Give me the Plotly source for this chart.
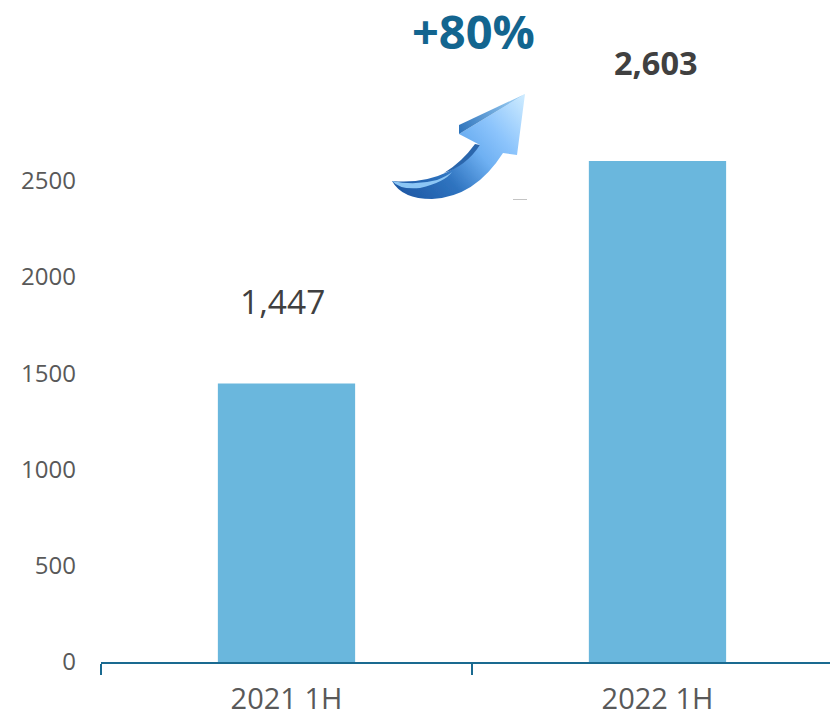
import base64
import plotly.graph_objects as go

# Half-year totals
periods = ["2021 1H", "2022 1H"]
totals = [1447, 2603]
total_labels = ["1,447", "2,603"]
label_weights = ["normal", "bold"]
label_xshifts = [-4, -1.5]
y_ticks = [0, 500, 1000, 1500, 2000, 2500]
growth_label = "+80%"

BAR_BLUE = "#6AB7DD"
AXIS_BLUE = "#1A6A90"
TEXT_GREY = "#595959"
DARK_GREY = "#404040"

# Decorative 3D growth arrow, drawn in its own 150x115 box
ARROW_SVG = """<svg xmlns="http://www.w3.org/2000/svg" width="150" height="115" viewBox="385 90 150 115">
<defs>
<filter id="s"><feGaussianBlur stdDeviation="0.6"/></filter>
<linearGradient id="body" gradientUnits="userSpaceOnUse" x1="405" y1="200" x2="525" y2="97">
<stop offset="0" stop-color="#1E58A4"/><stop offset="0.3" stop-color="#2F74C0"/>
<stop offset="0.55" stop-color="#6EB0F2"/><stop offset="0.72" stop-color="#8CC4FC"/>
<stop offset="1" stop-color="#CDEBFF"/>
</linearGradient>
<linearGradient id="fold" gradientUnits="userSpaceOnUse" x1="459" y1="130" x2="525" y2="95">
<stop offset="0" stop-color="#2F74BC"/><stop offset="1" stop-color="#A8D8FA"/>
</linearGradient>
</defs>
<g filter="url(#s)">
<path d="M392,181 Q402,199 432,199 Q475,197 503,153 L517,155 L525,94 L459,134 L480,145 Q448,186 392,181 Z" fill="url(#body)"/>
<path d="M392,181 Q415,186 437,180 Q447,176 452,172 Q445,182 420,188 Q400,190 392,181 Z" fill="#8CC6F5"/>
<path d="M480,145 L475,144 Q462,162 444,173 Q466,166 480,145 Z" fill="#2C66AC"/>
<path d="M459,134 L459,125 L525,94 Z" fill="url(#fold)"/>
<path d="M513,199.5 L527,199.5" stroke="#C4C4C4" stroke-width="1"/>
</g>
</svg>"""
arrow_uri = "data:image/svg+xml;base64," + base64.b64encode(ARROW_SVG.encode()).decode()

fig = go.Figure(
    go.Bar(x=periods, y=totals, width=0.37, marker_color=BAR_BLUE, marker_line_width=0, hoverinfo="skip")
)

# Value labels sit well above their bars
for period, total, label, weight, dx in zip(periods, totals, total_labels, label_weights, label_xshifts):
    fig.add_annotation(
        x=period, y=total, xref="x", yref="y", text=label, showarrow=False,
        xshift=dx, yshift=82 if weight == "normal" else 98,
        font=dict(family="Open Sans", size=33.5 if weight == "normal" else 32.5,
                  color=DARK_GREY, weight=weight),
    )

fig.add_annotation(
    x=(473.5 - 101) / 729, y=(662 - 31) / 662, xref="paper", yref="paper", xanchor="center", yanchor="middle",
    text=f"<b>{growth_label}</b>", showarrow=False,
    font=dict(family="Open Sans", size=47, color="#13658F"),
)

fig.add_layout_image(
    source=arrow_uri, xref="paper", yref="paper", x=(385 - 101) / 729, y=(662 - 90) / 662,
    sizex=150 / 729, sizey=115 / 662, xanchor="left", yanchor="top", sizing="stretch", layer="above",
)

fig.update_layout(
    width=830, height=717, autosize=False,
    margin=dict(l=101, r=0, t=0, b=55, autoexpand=False),
    paper_bgcolor="white", plot_bgcolor="white",
    showlegend=False,
    xaxis=dict(
        type="category", range=[-0.5, 1.465], tickson="boundaries", automargin=False,
        ticks="outside", ticklen=11, tickwidth=2, tickcolor=AXIS_BLUE,
        showline=True, linewidth=2, linecolor=AXIS_BLUE, showgrid=False, zeroline=False,
        ticklabelstandoff=10,
        tickfont=dict(family="Open Sans", size=29, color=TEXT_GREY),
    ),
    yaxis=dict(
        range=[0, 3439], tickmode="array", tickvals=y_ticks, ticktext=[str(v) for v in y_ticks],
        automargin=False,
        showgrid=False, zeroline=False, showline=False, ticks="", ticklabelstandoff=24,
        tickfont=dict(family="Open Sans", size=24, color=TEXT_GREY),
    ),
)

fig.write_html("out.html", config=dict(displayModeBar=False))
